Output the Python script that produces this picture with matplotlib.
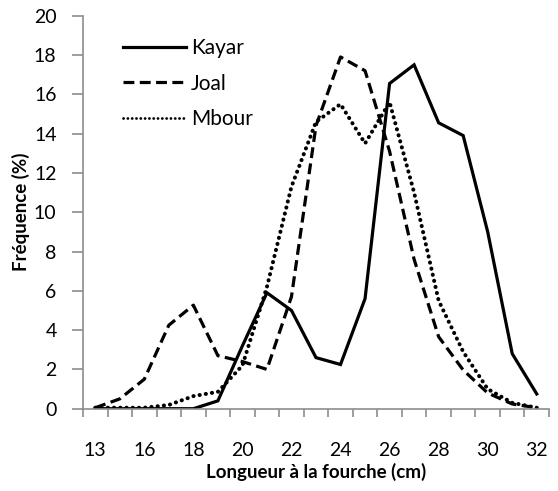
import matplotlib
matplotlib.use("Agg")
import matplotlib.pyplot as plt

plt.rcParams['font.family'] = ['Lato', 'DejaVu Sans']

# Fork-length classes (cm) and length-frequency (%) per landing site
lengths = [13, 15, 16, 17, 18, 19, 20, 21, 22, 23, 24, 25, 26, 27, 28, 29, 30, 31, 32]
kayar = [0, 0, 0, 0, 0, 0.4, 3.2, 5.9, 5.0, 2.6, 2.25, 5.6, 16.55, 17.5, 14.55, 13.9, 9.0, 2.8, 0.75]
joal = [0.05, 0.5, 1.5, 4.25, 5.27, 2.7, 2.4, 2.0, 5.7, 14.4, 17.9, 17.2, 13.1, 7.6, 3.66, 1.97, 0.8, 0.24, 0.05]
mbour = [0.05, 0.05, 0.05, 0.19, 0.64, 0.86, 2.2, 6.2, 11.3, 14.6, 15.5, 13.5, 15.6, 11.0, 5.5, 2.9, 1.0, 0.3, 0.05]
y_ticks = list(range(0, 21, 2))

fig = plt.figure(figsize=(5.58, 4.91), dpi=100)
ax = fig.add_axes([0.1487, 0.1676, 0.8352, 0.8004])

pos = list(range(len(lengths)))
ax.plot(pos, kayar, color='black', lw=2.3, solid_joinstyle='miter', label='Kayar')
ax.plot(pos, joal, color='black', lw=2.3, linestyle=(0, (3.4, 1.7)), label='Joal')
ax.plot(pos, mbour, color='black', lw=2.9, linestyle=(0, (0.05, 1.5)),
        dash_capstyle='round', label='Mbour')

ax.set_xlim(-0.5, len(lengths) - 0.5)
ax.set_ylim(0, 20)
ax.set_yticks(y_ticks)
ax.set_yticklabels([str(v) for v in y_ticks])

# Category axis: tick marks on class boundaries, every other class labelled
ax.set_xticks([p - 0.5 for p in range(len(lengths) + 1)])
ax.set_xticklabels([])
ax.set_xticks(pos[::2], minor=True)
ax.set_xticklabels([str(v) for v in lengths[::2]], minor=True)
ax.tick_params(axis='x', which='major', length=6, width=1.2, color='#8c8c8c', direction='out')
ax.tick_params(axis='x', which='minor', length=0, pad=24, labelsize=14)
ax.tick_params(axis='y', length=8, width=1.2, color='#8c8c8c', direction='out', pad=11, labelsize=14)

for side in ('top', 'right'):
    ax.spines[side].set_visible(False)
for side in ('left', 'bottom'):
    ax.spines[side].set_color('#8c8c8c')
    ax.spines[side].set_linewidth(1.2)

ax.set_xlabel('Longueur à la fourche (cm)', fontsize=13.5, fontweight='bold', labelpad=3)
ax.set_ylabel('Fréquence (%)', fontsize=13.5, fontweight='bold', labelpad=3)

leg = ax.legend(loc='upper left', bbox_to_anchor=(0.055, 0.98), frameon=False, fontsize=15,
                handlelength=3.0, handletextpad=0.25, labelspacing=0.75, borderaxespad=0.3)
for h in leg.get_lines()[2:]:
    h.set_linewidth(2.0)

fig.savefig('out.png', dpi=100)
